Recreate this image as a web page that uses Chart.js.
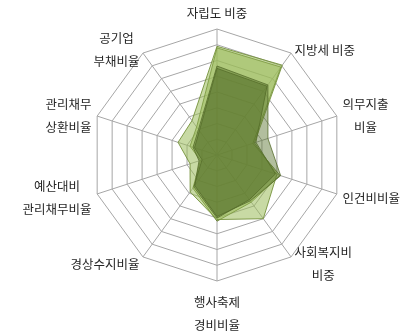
<!DOCTYPE html>
<html>
<head>
<meta charset="utf-8">
<script src="https://cdn.jsdelivr.net/npm/chart.js@4"></script>
<style>
  html, body { margin: 0; padding: 0; background: #fff; }
  #wrap { width: 404px; height: 334px; }
</style>
</head>
<body>
<div id="wrap"><canvas id="radarChart"></canvas></div>
<script>
// axis labels (clockwise from top)
const categories = [
    ['자립도 비중'], ['지방세 비중'], ['의무지출', '비율'], ['인건비비율'], ['사회복지비', '비중'],
    ['행사축제', '경비비율'], ['경상수지비율'], ['예산대비', '관리채무비율'], ['관리채무', '상환비율'], ['공기업', '부채비율']
];
const ticks = [0, 1, 2, 3, 4, 5, 6, 7, 8];

// series values
const series1 = [6.9, 7.05, 2.5, 4.0, 5.0, 4.1, 2.9, 1.8, 2.6, 2.7];
const series2 = [6.8, 6.9, 2.4, 4.2, 3.7, 4.2, 2.6, 1.1, 1.8, 2.2];
const series3 = [5.65, 5.5, 3.4, 4.25, 3.6, 3.9, 2.4, 1.2, 1.6, 2.0];
const series4 = [5.5, 5.4, 2.6, 3.9, 3.5, 4.0, 2.5, 1.0, 1.5, 1.9];

// point labels drawn by hand so the web keeps its size
const axisLabels = {
    id: 'axisLabels',
    afterDraw(chart) {
        const r = chart.scales.r;
        const c = chart.ctx;
        const lh = 23;
        c.save();
        c.font = '12.5px "Noto Sans CJK KR", sans-serif';
        c.fillStyle = '#262626';
        c.textAlign = 'center';
        c.textBaseline = 'middle';
        categories.forEach((lines, i) => {
            const p = r.getPointPosition(i, r.drawingArea + 6);
            const w = Math.max(...lines.map(t => c.measureText(t).width));
            const dx = p.x - r.xCenter;
            let cx, y0;
            if (Math.abs(dx) < 1) {
                cx = p.x;
                y0 = p.y < r.yCenter ? p.y - 10 - (lines.length - 1) * lh : p.y + 15;
            } else {
                cx = dx > 0 ? p.x + w / 2 : p.x - w / 2;
                y0 = p.y + 2 - (lines.length - 1) * lh / 2;
            }
            lines.forEach((t, j) => c.fillText(t, cx, y0 + j * lh));
        });
        c.restore();
    }
};

// the dark series go first so they are painted on top
const ctx = document.getElementById('radarChart').getContext('2d');
new Chart(ctx, {
    type: 'radar',
    data: {
        labels: categories,
        datasets: [
            { label: '계열3', data: series3, backgroundColor: 'rgba(85,110,40,0.45)', borderColor: 'rgba(85,108,42,0.8)' },
            { label: '계열4', data: series4, backgroundColor: 'rgba(85,110,40,0.45)', borderColor: 'rgba(85,108,42,0.8)' },
            { label: '계열1', data: series1, backgroundColor: 'rgba(155,187,89,0.55)', borderColor: 'rgba(118,146,60,0.9)' },
            { label: '계열2', data: series2, backgroundColor: 'rgba(155,187,89,0.55)', borderColor: 'rgba(95,120,45,0.9)' }
        ].map(d => Object.assign(d, { borderWidth: 1, pointRadius: 0, fill: true }))
    },
    options: {
        responsive: true,
        maintainAspectRatio: false,
        animation: false,
        layout: { padding: { top: 29, bottom: 53, left: 30, right: 0 } },
        plugins: {
            legend: { display: false },
            tooltip: { enabled: false }
        },
        scales: {
            r: {
                min: ticks[0],
                max: ticks[ticks.length - 1],
                ticks: { stepSize: 1, display: false },
                grid: { color: '#a6a6a6', lineWidth: 1 },
                angleLines: { color: '#a6a6a6', lineWidth: 1 },
                pointLabels: { display: false }
            }
        }
    },
    plugins: [axisLabels]
});
</script>
</body>
</html>
